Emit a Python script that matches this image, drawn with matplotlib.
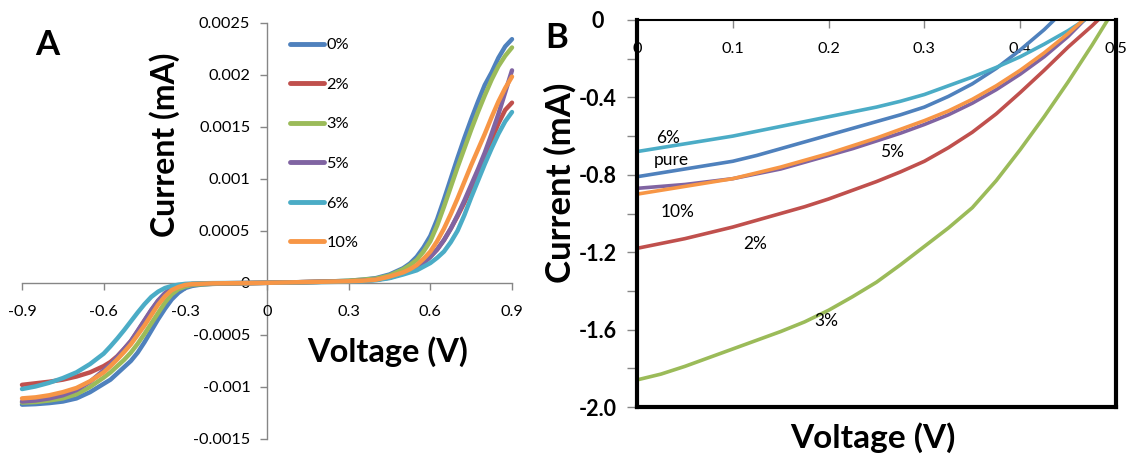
import matplotlib
matplotlib.use('Agg')
import matplotlib.pyplot as plt

plt.rcParams['font.family'] = ['Lato', 'DejaVu Sans']

# ---------------- data ----------------
series_names = ['0%', '2%', '3%', '5%', '6%', '10%']
colors = ['#4F81BD', '#C0504D', '#9BBB59', '#8064A2', '#4BACC6', '#F79646']

# Panel A (dark I-V): voltage in V, current in units of 1e-3 mA
vA = [-0.9, -0.85, -0.8, -0.75, -0.7, -0.65, -0.6, -0.575, -0.55, -0.525, -0.5, -0.475, -0.45,
      -0.425, -0.4, -0.375, -0.35, -0.325, -0.3, -0.275, -0.25, -0.2, -0.1, 0.0,
      0.1, 0.2, 0.3, 0.35, 0.4, 0.45, 0.5, 0.525, 0.55, 0.575, 0.6, 0.625, 0.65, 0.675,
      0.7, 0.725, 0.75, 0.775, 0.8, 0.825, 0.85, 0.875, 0.9]
iA_0 = [-1.17, -1.165, -1.155, -1.14, -1.11, -1.05, -0.97, -0.93, -0.87, -0.81, -0.75, -0.67, -0.57,
        -0.46, -0.35, -0.25, -0.16, -0.095, -0.05, -0.03, -0.02, -0.01, -0.005, 0.0,
        0.005, 0.01, 0.02, 0.03, 0.045, 0.08, 0.14, 0.185, 0.25, 0.34, 0.45, 0.61, 0.80, 1.0,
        1.2, 1.39, 1.57, 1.74, 1.9, 2.02, 2.16, 2.27, 2.34]
iA_2 = [-0.98, -0.965, -0.95, -0.93, -0.90, -0.86, -0.80, -0.76, -0.705, -0.635, -0.56, -0.465, -0.365,
        -0.265, -0.175, -0.105, -0.06, -0.032, -0.02, -0.012, -0.01, -0.005, -0.003, 0.0,
        0.005, 0.01, 0.015, 0.02, 0.03, 0.05, 0.09, 0.115, 0.15, 0.19, 0.25, 0.32, 0.41, 0.52,
        0.64, 0.77, 0.91, 1.05, 1.20, 1.37, 1.53, 1.66, 1.73]
iA_3 = [-1.15, -1.145, -1.13, -1.11, -1.07, -1.0, -0.91, -0.86, -0.80, -0.74, -0.67, -0.585, -0.49,
        -0.39, -0.29, -0.19, -0.11, -0.06, -0.035, -0.02, -0.015, -0.01, -0.005, 0.0,
        0.005, 0.01, 0.02, 0.03, 0.04, 0.07, 0.13, 0.17, 0.22, 0.30, 0.40, 0.55, 0.73, 0.92,
        1.11, 1.29, 1.47, 1.64, 1.80, 1.95, 2.08, 2.18, 2.26]
iA_5 = [-1.14, -1.13, -1.11, -1.08, -1.03, -0.95, -0.84, -0.78, -0.71, -0.635, -0.56, -0.46, -0.36,
        -0.26, -0.17, -0.10, -0.055, -0.03, -0.02, -0.012, -0.01, -0.005, -0.003, 0.0,
        0.005, 0.01, 0.015, 0.02, 0.03, 0.05, 0.09, 0.115, 0.15, 0.19, 0.25, 0.32, 0.41, 0.52,
        0.65, 0.79, 0.94, 1.09, 1.25, 1.43, 1.62, 1.83, 2.04]
iA_6 = [-1.02, -0.995, -0.96, -0.915, -0.86, -0.78, -0.68, -0.61, -0.535, -0.455, -0.37, -0.285, -0.205,
        -0.135, -0.085, -0.05, -0.03, -0.018, -0.01, -0.007, -0.005, -0.003, -0.001, 0.0,
        0.003, 0.007, 0.012, 0.016, 0.025, 0.045, 0.08, 0.10, 0.12, 0.155, 0.19, 0.24, 0.30, 0.39,
        0.50, 0.65, 0.82, 0.98, 1.14, 1.29, 1.43, 1.55, 1.64]
iA_10 = [-1.11, -1.10, -1.08, -1.05, -1.01, -0.945, -0.86, -0.80, -0.735, -0.665, -0.59, -0.50, -0.41,
         -0.31, -0.21, -0.13, -0.07, -0.04, -0.02, -0.012, -0.01, -0.005, -0.003, 0.0,
         0.005, 0.01, 0.015, 0.02, 0.03, 0.06, 0.10, 0.13, 0.17, 0.23, 0.30, 0.40, 0.52, 0.66,
         0.81, 0.97, 1.13, 1.28, 1.43, 1.59, 1.74, 1.87, 1.98]

xticksA = [-0.9, -0.6, -0.3, 0, 0.3, 0.6, 0.9]
xticklabelsA = ['-0.9', '-0.6', '-0.3', '0', '0.3', '0.6', '0.9']
yticksA = [0.0025, 0.002, 0.0015, 0.001, 0.0005, 0, -0.0005, -0.001, -0.0015]
yticklabelsA = ['0.0025', '0.002', '0.0015', '0.001', '0.0005', '0', '-0.0005', '-0.001', '-0.0015']

# Panel B (illuminated I-V): voltage in V, current in mA
vB = [0.0, 0.025, 0.05, 0.075, 0.1, 0.125, 0.15, 0.175, 0.2, 0.225, 0.25, 0.275, 0.3,
      0.325, 0.35, 0.375, 0.4, 0.425, 0.45, 0.475, 0.5]
iB_0 = [-0.81, -0.79, -0.77, -0.75, -0.73, -0.70, -0.665, -0.63, -0.595, -0.56, -0.525, -0.49, -0.45,
        -0.395, -0.33, -0.25, -0.155, -0.05, 0.07, 0.20, 0.33]
iB_2 = [-1.18, -1.155, -1.13, -1.10, -1.07, -1.035, -1.0, -0.965, -0.925, -0.88, -0.835, -0.785, -0.73,
        -0.66, -0.58, -0.485, -0.375, -0.26, -0.14, -0.03, 0.09]
iB_3 = [-1.86, -1.83, -1.79, -1.745, -1.70, -1.655, -1.61, -1.56, -1.50, -1.43, -1.355, -1.265, -1.17,
        -1.075, -0.97, -0.83, -0.67, -0.50, -0.32, -0.13, 0.07]
iB_5 = [-0.87, -0.86, -0.85, -0.835, -0.82, -0.795, -0.77, -0.735, -0.70, -0.665, -0.625, -0.585, -0.54,
        -0.49, -0.43, -0.36, -0.28, -0.19, -0.085, 0.04, 0.17]
iB_6 = [-0.68, -0.66, -0.64, -0.62, -0.60, -0.575, -0.55, -0.525, -0.50, -0.475, -0.45, -0.42, -0.385,
        -0.34, -0.295, -0.245, -0.19, -0.125, -0.055, 0.025, 0.11]
iB_10 = [-0.90, -0.88, -0.86, -0.84, -0.82, -0.79, -0.76, -0.725, -0.69, -0.65, -0.61, -0.565, -0.52,
         -0.47, -0.41, -0.34, -0.26, -0.17, -0.07, 0.04, 0.16]

xticksB = [0, 0.1, 0.2, 0.3, 0.4, 0.5]
xticklabelsB = ['0', '0.1', '0.2', '0.3', '0.4', '0.5']
yticksB = [0, -0.4, -0.8, -1.2, -1.6, -2.0]
yticklabelsB = ['0', '-0.4', '-0.8', '-1.2', '-1.6', '-2.0']
yminorB = [-0.2, -0.6, -1.0, -1.4, -1.8]

labelsB = ['6%', 'pure', '10%', '5%', '2%', '3%']
label_posB = [(0.032, -0.61), (0.036, -0.724), (0.042, -0.992), (0.266, -0.682), (0.123, -1.158), (0.198, -1.556)]

# ---------------- figure ----------------
W, H = 1129, 455
fig = plt.figure(figsize=(W / 100, H / 100), dpi=100)


def fx(px):
    return px / W


def fy(py):
    return 1 - py / H


# ---- Panel A ----
axA = fig.add_axes([fx(22), fy(439), fx(512) - fx(22), fy(22.5) - fy(439)])
gray = '#868686'
for name, col, ys in zip(series_names, colors, [iA_0, iA_2, iA_3, iA_5, iA_6, iA_10]):
    axA.plot(vA, [y * 1e-3 for y in ys], color=col, lw=3.2, label=name,
             solid_capstyle='round', clip_on=False)
axA.set_xlim(-0.9, 0.9)
axA.set_ylim(-0.0015, 0.0025)
for s in ['top', 'right']:
    axA.spines[s].set_visible(False)
axA.spines['left'].set_position(('data', 0))
axA.spines['bottom'].set_position(('data', 0))
for s in ['left', 'bottom']:
    axA.spines[s].set_color(gray)
    axA.spines[s].set_linewidth(1.0)
    axA.spines[s].set_zorder(0.5)
axA.set_xticks(xticksA)
axA.set_xticklabels(xticklabelsA)
axA.set_yticks(yticksA)
axA.set_yticklabels(yticklabelsA)
axA.tick_params(axis='both', direction='out', length=5, width=1, color=gray, labelsize=11.7)
axA.tick_params(axis='x', pad=11)
axA.tick_params(axis='y', pad=7)
axA.patch.set_alpha(0)

leg = axA.legend(loc='upper left', bbox_to_anchor=(fx(290), fy(38)), bbox_transform=fig.transFigure,
                 frameon=False, fontsize=11.7, handlelength=2.1, handletextpad=0.15,
                 labelspacing=1.55, borderpad=0, borderaxespad=0)
for h in leg.get_lines():
    h.set_linewidth(3.5)

fig.text(fx(165), fy(145), 'Current (mA)', rotation=90, ha='center', va='center',
         fontsize=23, fontweight='bold')
fig.text(fx(388), fy(352), 'Voltage (V)', ha='center', va='center', fontsize=23.5, fontweight='bold')
fig.text(fx(47), fy(45), 'A', ha='center', va='center', fontsize=25, fontweight='bold')

# ---- Panel B ----
axB = fig.add_axes([fx(637), fy(407), fx(1116) - fx(637), fy(20) - fy(407)])
for name, col, ys in zip(series_names, colors, [iB_0, iB_2, iB_3, iB_5, iB_6, iB_10]):
    axB.plot(vB, ys, color=col, lw=2.6, label=name)
axB.set_xlim(0, 0.5)
axB.set_ylim(-2.0, 0)
for s in ['left', 'right', 'bottom']:
    axB.spines[s].set_linewidth(3)
    axB.spines[s].set_color('black')
axB.spines['top'].set_linewidth(1.5)
axB.spines['top'].set_color('black')
axB.xaxis.tick_top()
axB.set_xticks(xticksB)
axB.set_xticklabels(xticklabelsB)
axB.tick_params(axis='x', direction='in', length=6, width=1, color='#868686',
                labelsize=11.7, pad=-26, top=True, bottom=False, labeltop=True, labelbottom=False)
axB.set_yticks(yticksB)
axB.set_yticklabels(yticklabelsB, fontweight='bold', ha='center')
axB.set_yticks(yminorB, minor=True)
axB.tick_params(axis='y', which='both', direction='out', length=7, width=1, color='#868686',
                labelsize=15.5, pad=21)
for lab, (x, y) in zip(labelsB, label_posB):
    axB.text(x, y, lab, ha='center', va='center', fontsize=12.5)

fig.text(fx(560), fy(183), 'Current (mA)', rotation=90, ha='center', va='center',
         fontsize=25, fontweight='bold')
fig.text(fx(873), fy(438), 'Voltage (V)', ha='center', va='center', fontsize=24, fontweight='bold')
fig.text(fx(557), fy(38), 'B', ha='center', va='center', fontsize=25, fontweight='bold')

fig.savefig('out.png', dpi=100)
